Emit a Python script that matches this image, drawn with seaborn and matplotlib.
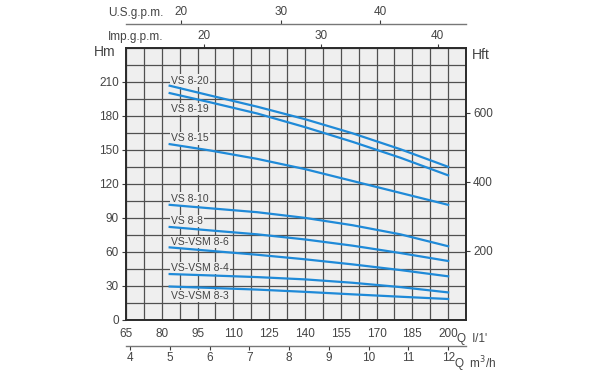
import seaborn as sns
import matplotlib.pyplot as plt
import numpy as np
import pandas as pd

# flow points (l/min) and heads (m)
q_lmin = [83.3, 100, 120, 140, 160, 180, 200]
h_vs820 = [206.5, 198, 188, 177, 164.5, 150.5, 135]
h_vs819 = [200, 192, 182, 170, 157, 143, 127.5]
h_vs815 = [155, 149.5, 142, 133, 122.5, 112, 101.5]
h_vs810 = [101.5, 98.5, 95, 90, 83.5, 75.5, 65]
h_vs88 = [82, 79, 75.5, 71, 65.5, 59, 52]
h_vsm86 = [64, 61, 57.5, 53.5, 49, 44, 38.5]
h_vsm84 = [40.5, 39.3, 37.8, 35.8, 32.8, 29, 24.3]
h_vsm83 = [29.5, 28.3, 26.8, 24.8, 22.6, 20.5, 18.5]

models = ['VS 8-20', 'VS 8-19', 'VS 8-15', 'VS 8-10', 'VS 8-8',
          'VS-VSM 8-6', 'VS-VSM 8-4', 'VS-VSM 8-3']
heads = [h_vs820, h_vs819, h_vs815, h_vs810, h_vs88, h_vsm86, h_vsm84, h_vsm83]
label_y = [211, 186, 160, 107, 87.5, 69, 46, 21]

lmin_ticks = [65, 80, 95, 110, 125, 140, 155, 170, 185, 200]
m3h_ticks = [4, 5, 6, 7, 8, 9, 10, 11, 12]
hm_ticks = [0, 30, 60, 90, 120, 150, 180, 210]
hft_ticks = [200, 400, 600]
imp_ticks = [20, 30, 40]
us_ticks = [20, 30, 40]

df = pd.concat([pd.DataFrame({'Q': q_lmin, 'H': h, 'model': m})
                for m, h in zip(models, heads)])

blue = '#1f8ad8'
grey = '#3a3a3a'
txt = '#444444'
bg = '#efefef'

plt.rcParams['font.family'] = ['Liberation Sans', 'DejaVu Sans']
fig = plt.figure(figsize=(6, 3.75), dpi=100)
ax = fig.add_axes([0.21, 0.1467, 0.5667, 0.7261])
ax.set_facecolor(bg)

sns.lineplot(data=df, x='Q', y='H', hue='model', palette=[blue] * len(models),
             linewidth=1.6, legend=False, ax=ax, zorder=3)

ax.set_xlim(65, 207.5)
ax.set_ylim(0, 240)
ax.set_xticks(lmin_ticks)
ax.set_xticks(np.arange(65, 208, 7.5), minor=True)
ax.set_yticks(hm_ticks)
ax.set_yticks(np.arange(0, 241, 15), minor=True)
ax.grid(which='both', color='#505050', linewidth=0.9, zorder=1)
ax.set_axisbelow(True)
ax.tick_params(axis='x', which='both', length=0, pad=6, labelsize=8.5, labelcolor=txt)
ax.tick_params(axis='y', which='major', length=3, width=0.8, color=grey, pad=2,
               labelsize=8.5, labelcolor=txt)
ax.tick_params(axis='y', which='minor', length=0)
ax.set_xlabel('')
ax.set_ylabel('')
for s in ax.spines.values():
    s.set_color('#2a2a2a')
    s.set_linewidth(1.4)

for m, y in zip(models, label_y):
    ax.text(84, y, m, fontsize=7.5, color=txt, va='center', ha='left', zorder=2,
            bbox=dict(facecolor=bg, edgecolor='none', pad=0.8))

# right axis in feet
ft = ax.secondary_yaxis('right', functions=(lambda m: m * 3.2808, lambda f: f / 3.2808))
ft.set_yticks(hft_ticks)
ft.tick_params(length=3, width=0.8, color=grey, labelsize=8.5, labelcolor=txt, pad=2)
ft.spines['right'].set_visible(False)

# imperial gallons on the top border
imp = ax.secondary_xaxis('top', functions=(lambda q: q / 4.89, lambda g: g * 4.89))
imp.set_xticks(imp_ticks)
imp.tick_params(length=3, width=0.8, color=grey, labelsize=8.5, labelcolor=txt, pad=1)
imp.spines['top'].set_visible(False)

# US gallons on a separate line above
us = ax.secondary_xaxis(1.087, functions=(lambda q: (q - 5) / 4.16, lambda g: g * 4.16 + 5))
us.set_xticks(us_ticks)
us.tick_params(length=3, width=0.8, color=grey, labelsize=8.5, labelcolor=txt, pad=1)
us.spines['top'].set_color('#777777')
us.spines['top'].set_linewidth(1.0)

# m3/h line below
m3 = ax.secondary_xaxis(-0.0955, functions=(lambda q: q * 0.06, lambda v: v / 0.06))
m3.set_xticks(m3h_ticks)
m3.tick_params(length=3, width=0.8, color=grey, labelsize=8.5, labelcolor=txt, pad=1)
m3.spines['bottom'].set_color('#777777')
m3.spines['bottom'].set_linewidth(1.0)

tkw = dict(fontsize=8.5, color=txt, transform=ax.transAxes)
ax.text(-0.03, 0.985, 'Hm', ha='right', va='center', fontsize=10, color=txt,
        transform=ax.transAxes)
ax.text(1.018, 0.975, 'Hft', ha='left', va='center', fontsize=10, color=txt,
        transform=ax.transAxes)
ax.text(-0.054, 1.039, 'Imp.g.p.m.', ha='left', va='center', **tkw)
ax.text(-0.054, 1.127, 'U.S.g.p.m.', ha='left', va='center', **tkw)
ax.text(0.973, -0.048, "Q  l/1'", ha='left', va='top', **tkw)
ax.text(0.966, -0.128, 'Q  m$^3$/h', ha='left', va='top', **tkw)

fig.savefig('out.png', dpi=100, facecolor='white')
